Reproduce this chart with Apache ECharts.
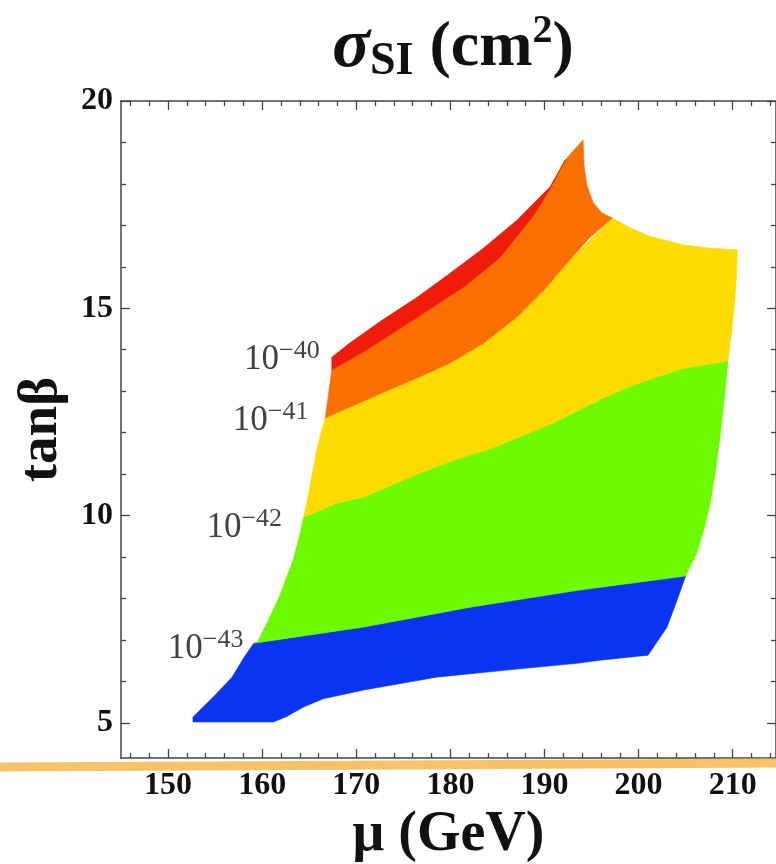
<!DOCTYPE html>
<html>
<head>
<meta charset="utf-8">
<script src="https://cdn.jsdelivr.net/npm/echarts@6/dist/echarts.min.js"></script>
<style>html,body{margin:0;padding:0;background:#fff}#c{width:776px;height:864px}</style>
</head>
<body>
<div id="c"></div>
<script>
// ---- data (mu in GeV, tan beta) ----
const xMajorTicks = [150, 160, 170, 180, 190, 200, 210];
const xMinorTicks = [146,148,152,154,156,158,162,164,166,168,172,174,176,178,182,184,186,188,192,194,196,198,202,204,206,208,212,214];
const yMajorTicks = [5, 10, 15, 20];
const yMinorTicks = [6,7,8,9,11,12,13,14,16,17,18,19];

// band polygons (sigma_SI regions)
const blueBand = [[152.65,5.02],[152.65,5.14],[154.8,5.62],[156.8,6.10],[158.0,6.55],[159.1,6.92],[170.8,7.31],[182.2,7.79],[193.7,8.20],[205.0,8.54],[204.0,7.90],[203.0,7.30],[201.0,6.63],[195.9,6.51],[193.7,6.44],[186.0,6.27],[178.5,6.10],[170.8,5.79],[166.5,5.58],[164.4,5.38],[162.6,5.15],[161.2,5.02]];
const greenBand = [[159.1,6.92],[170.8,7.31],[182.2,7.79],[193.7,8.20],[205.0,8.54],[206.2,9.10],[207.0,9.70],[207.6,10.28],[208.2,11.10],[208.65,11.89],[209.1,12.80],[209.5,13.73],[204.7,13.55],[199.4,13.15],[195.9,12.8],[190.6,12.2],[184.1,11.6],[180.5,11.35],[176.5,11.0],[170.8,10.45],[167.95,10.3],[164.4,9.96],[163.9,9.45],[163.3,8.93],[161.8,8.03],[160.6,7.45],[159.5,6.95]];
const yellowBand = [[164.4,9.96],[167.95,10.3],[170.8,10.45],[176.5,11.0],[180.5,11.35],[184.1,11.6],[190.6,12.2],[195.9,12.8],[199.4,13.15],[204.7,13.55],[209.5,13.73],[209.9,14.45],[210.2,15.13],[210.4,15.80],[210.5,16.41],[207.6,16.45],[204.7,16.53],[201.2,16.74],[199.1,16.94],[197.2,17.18],[192.4,16.09],[187.1,14.79],[183.5,14.15],[180.0,13.68],[176.3,13.30],[172.8,12.96],[166.7,12.35],[166.2,11.95],[165.8,11.58],[164.8,10.37]];
const orangeBand = [[166.7,12.35],[172.8,12.96],[176.3,13.30],[180.0,13.68],[183.5,14.15],[187.1,14.79],[190.0,15.45],[192.4,16.09],[194.8,16.70],[197.2,17.18],[196.1,17.30],[195.2,17.54],[194.5,17.97],[194.2,18.46],[194.1,19.06],[192.2,18.58],[190.5,17.84],[188.8,17.22],[185.3,16.23],[181.8,15.57],[176.5,14.78],[171.1,13.99],[167.4,13.51]];
const redBand = [[167.4,13.51],[171.1,13.99],[176.5,14.78],[181.8,15.57],[185.3,16.23],[188.8,17.22],[190.5,17.84],[192.2,18.58],[190.6,17.93],[187.1,17.13],[183.5,16.45],[180.0,15.85],[176.5,15.27],[172.8,14.72],[169.3,14.16],[167.4,13.82]];

// contour labels: [mu, tanb, exponent]
const contourLabels = [[162.1,13.75,'\u221240'],[160.9,12.28,'\u221241'],[158.1,9.70,'\u221242'],[154.0,6.78,'\u221243']];

const bands = [
  {pts: blueBand, color: '#0a34f2'},
  {pts: greenBand, color: '#6efb00'},
  {pts: yellowBand, color: '#ffdc00'},
  {pts: orangeBand, color: '#fa7000'},
  {pts: redBand, color: '#f01c0a'}
];

const FONT = '"Liberation Serif", "DejaVu Serif", serif';
const X_MIN = 145, X_MAX = 214.6, Y_MIN = 4.15, Y_MAX = 20;
const frame = '#444';

function xAx(pos, major, withLabel, line) {
  return {
    type: 'value', position: pos, min: X_MIN, max: X_MAX, gridIndex: 0,
    axisLine: {show: line, lineStyle: {color: frame, width: 1.5}},
    axisTick: {show: true, inside: true, length: major ? 9 : 5, customValues: major ? xMajorTicks : xMinorTicks, lineStyle: {color: frame, width: 1.3}},
    axisLabel: withLabel ? {show: true, customValues: xMajorTicks, fontFamily: FONT, fontWeight: 'bold', fontSize: 32, color: '#111', margin: 12} : {show: false},
    splitLine: {show: false},
    name: withLabel ? '\u03bc (GeV)' : '',
    nameLocation: 'middle', nameGap: 50,
    nameTextStyle: {fontFamily: FONT, fontWeight: 'bold', fontSize: 56, color: '#111'}
  };
}
function yAx(pos, major, withLabel, line) {
  return {
    type: 'value', position: pos, min: Y_MIN, max: Y_MAX, gridIndex: 0,
    axisLine: {show: line, lineStyle: {color: frame, width: 1.5}},
    axisTick: {show: true, inside: true, length: major ? 9 : 5, customValues: major ? yMajorTicks : yMinorTicks, lineStyle: {color: frame, width: 1.3}},
    axisLabel: withLabel ? {show: true, customValues: yMajorTicks, fontFamily: FONT, fontWeight: 'bold', fontSize: 32, color: '#111', margin: 8} : {show: false},
    splitLine: {show: false},
    name: withLabel ? 'tan\u03b2' : '',
    nameLocation: 'middle', nameGap: 52, nameRotate: 90,
    nameTextStyle: {fontFamily: FONT, fontWeight: 'bold', fontSize: 55, color: '#111'}
  };
}

const series = bands.map((b, i) => ({
  type: 'custom', xAxisIndex: 0, yAxisIndex: 0, data: b.pts,
  renderItem: function (params, api) {
    if (params.dataIndex !== 0) return null;
    const pts = b.pts.map(p => api.coord(p));
    return {type: 'polygon', z2: i, shape: {points: pts}, style: {fill: b.color, stroke: b.color, lineWidth: 0.6, lineJoin: 'round'}};
  },
  silent: true, z: 2 + i
}));

series.push({
  type: 'scatter', xAxisIndex: 0, yAxisIndex: 0, symbolSize: 0, silent: true, z: 10,
  data: contourLabels,
  label: {
    show: true, position: 'inside', color: '#111', textBorderWidth: 0,
    formatter: p => '{a|10}{b|' + p.value[2] + '}',
    rich: {
      a: {fontFamily: FONT, fontSize: 35, color: '#111', textBorderWidth: 0},
      b: {fontFamily: FONT, fontSize: 26, color: '#111', textBorderWidth: 0, padding: [0, 0, 18, 0]}
    }
  }
});

const chart = echarts.init(document.getElementById('c'), null, {renderer: 'canvas'});
chart.setOption({
  backgroundColor: '#fff',
  animation: false,
  title: {
    text: '{s|\u03c3}{sub|SI}{n| (cm}{sup|2}{n|)}',
    left: 448, top: 6, textAlign: 'center',
    textStyle: {
      rich: {
        s: {fontFamily: FONT, fontStyle: 'italic', fontWeight: 'bold', fontSize: 70, color: '#111'},
        sub: {fontFamily: FONT, fontWeight: 'bold', fontSize: 46, color: '#111', padding: [28, 0, 0, 0]},
        n: {fontFamily: FONT, fontWeight: 'bold', fontSize: 64, color: '#111'},
        sup: {fontFamily: FONT, fontWeight: 'bold', fontSize: 40, color: '#111', padding: [0, 0, 32, 0]}
      }
    }
  },
  grid: {left: 121, top: 101, right: 0, bottom: 106, containLabel: false, outerBoundsMode: 'none'},
  xAxis: [xAx('bottom', true, true, true), xAx('bottom', false, false, false), xAx('top', true, false, true), xAx('top', false, false, false)],
  yAxis: [yAx('left', true, true, true), yAx('left', false, false, false), yAx('right', true, false, true), yAx('right', false, false, false)],
  series: series,
  graphic: [{
    type: 'polyline', silent: true, z: 100,
    shape: {points: [[0, 767], [200, 766], [400, 765], [600, 764], [776, 763]]},
    style: {stroke: 'rgba(245,188,88,0.9)', lineWidth: 9, fill: null}
  }]
});
</script>
</body>
</html>
